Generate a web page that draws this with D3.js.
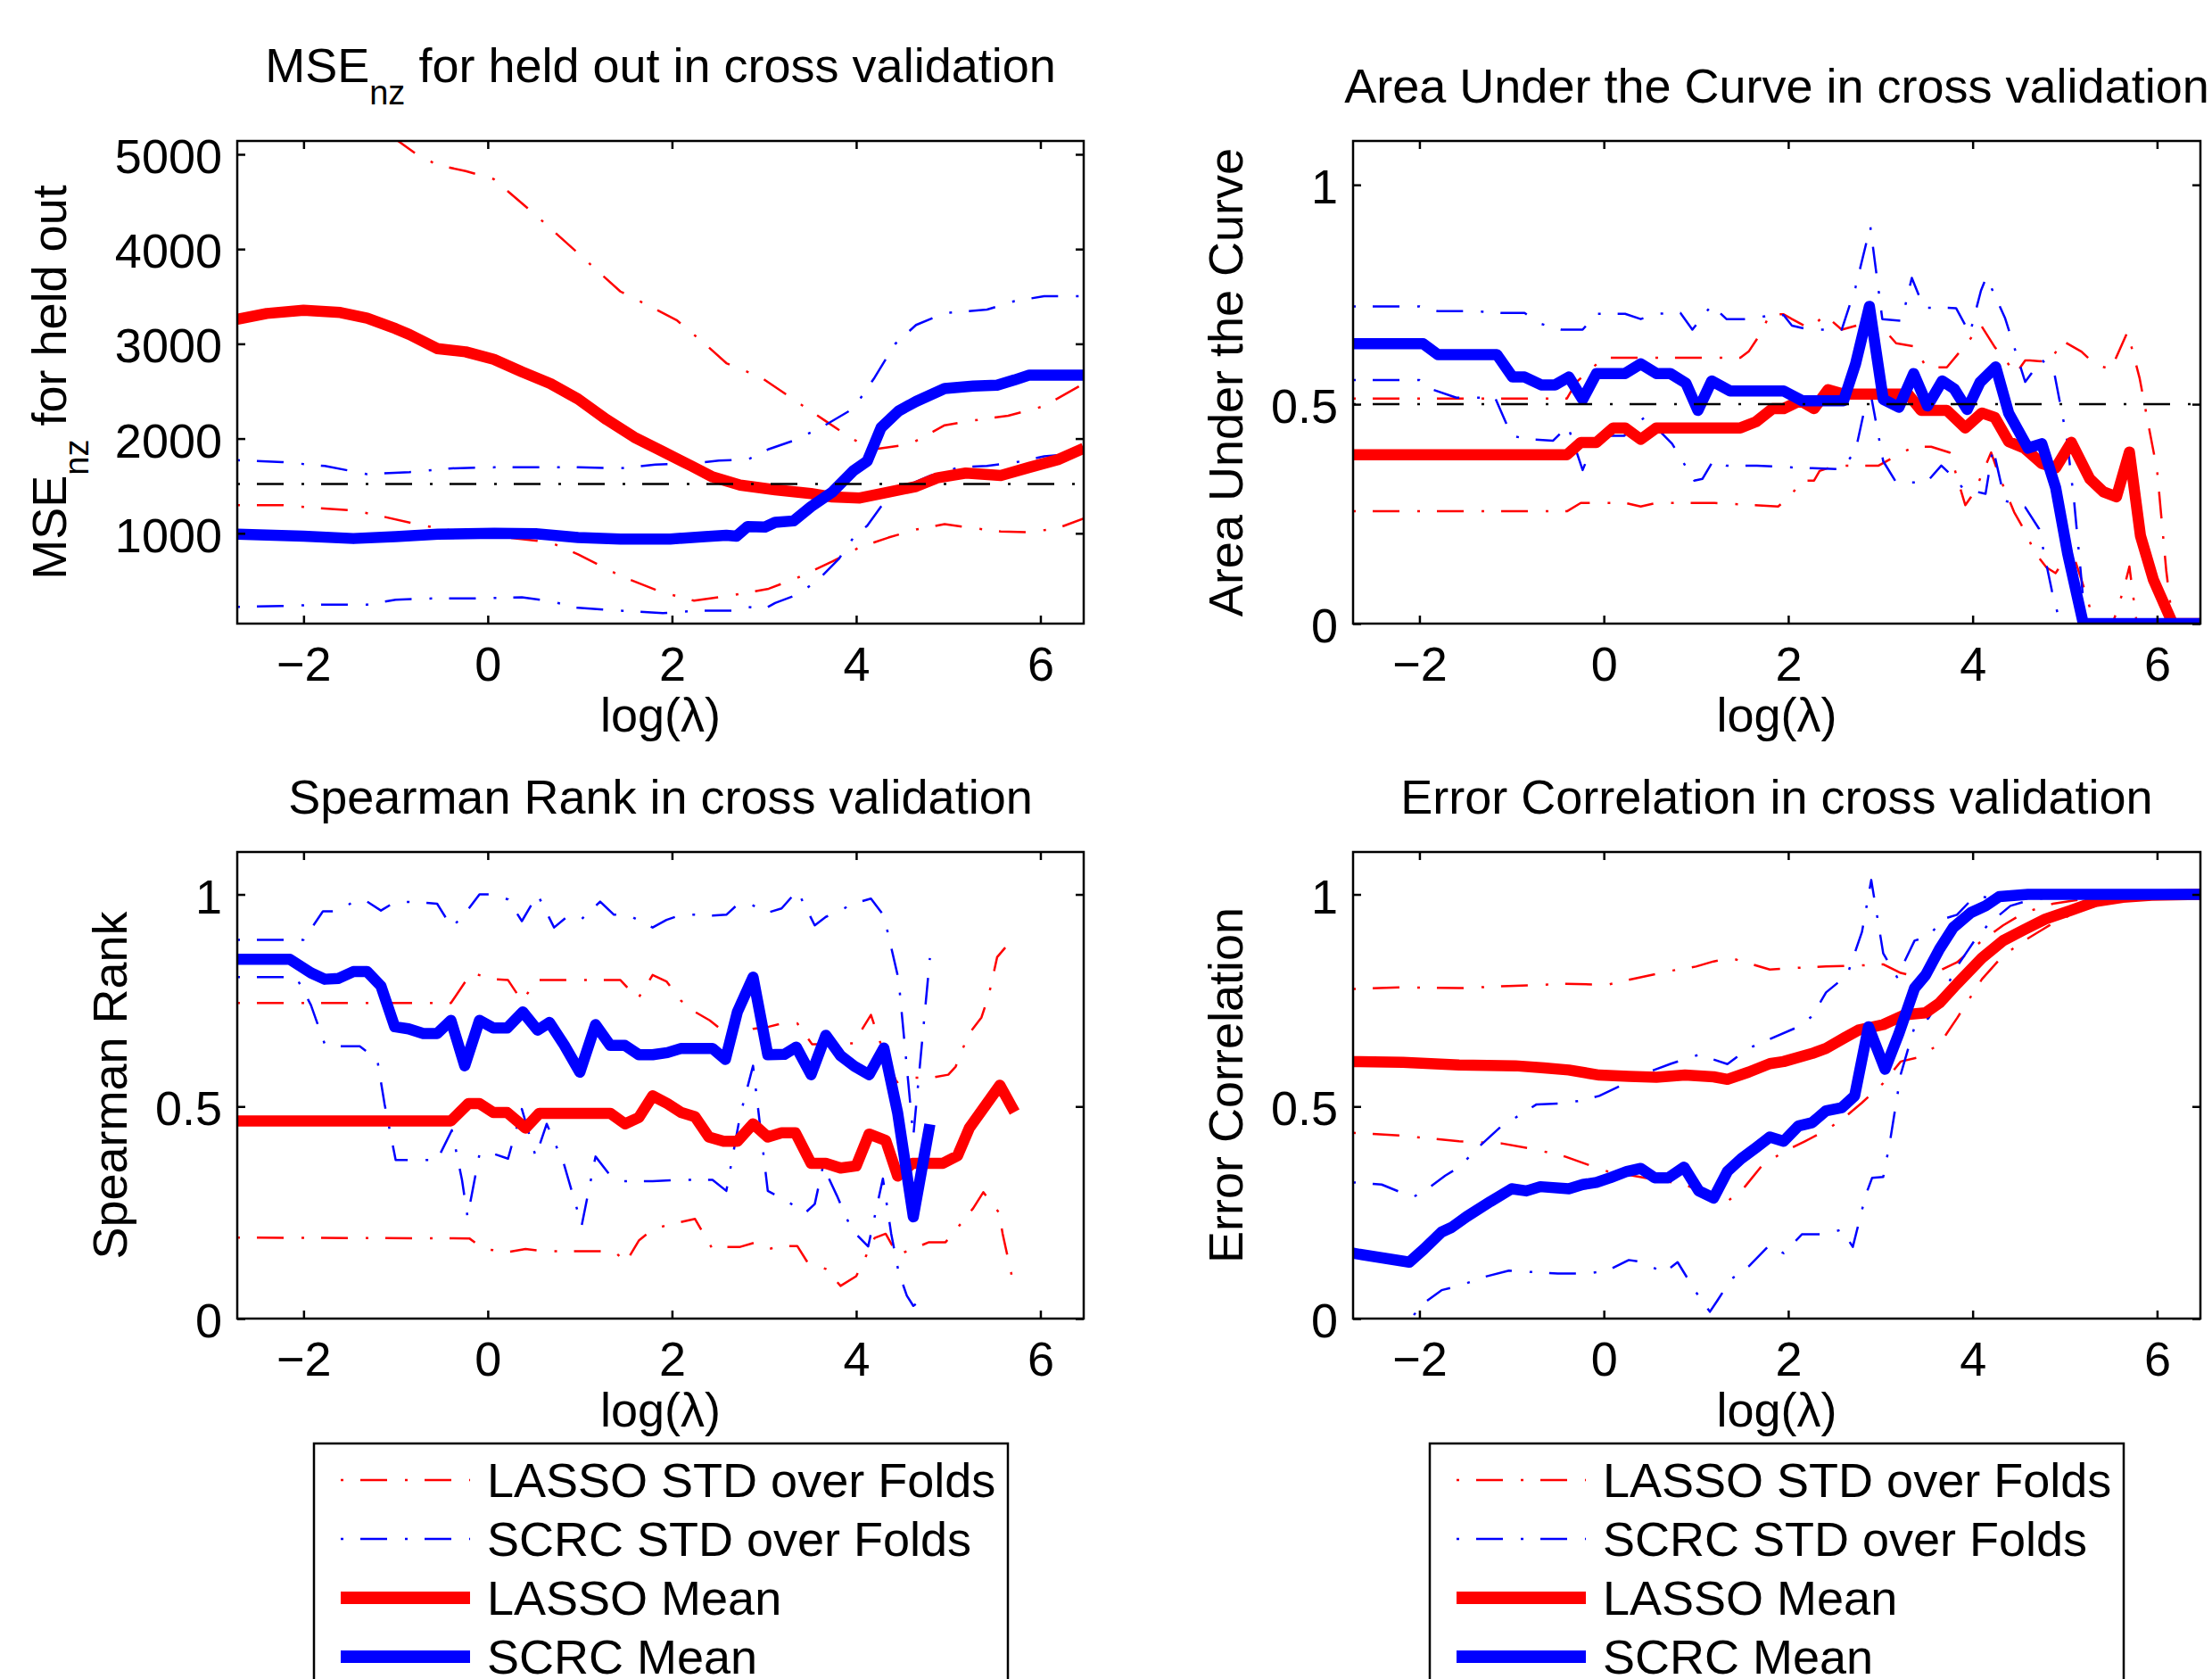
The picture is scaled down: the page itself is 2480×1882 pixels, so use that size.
<!DOCTYPE html>
<html>
<head>
<meta charset="utf-8">
<script src="https://cdn.jsdelivr.net/npm/d3@7"></script>
<style>
  body { margin: 0; background: #fff; }
  svg text { font-family: 'Liberation Sans', Arial, Helvetica, sans-serif; white-space: pre; }
</style>
</head>
<body>
<svg id="chart" width="2480" height="1882"></svg>
<script>
const xDomain = [-2.72, 6.47]
const xTicks = [-2, 0, 2, 4, 6]
const mseTicks = [1000, 2000, 3000, 4000, 5000]
const unitTicks = [0, 0.5, 1]
const legendLabels = ['LASSO STD over Folds', 'SCRC STD over Folds', 'LASSO Mean', 'SCRC Mean']

// MSE_nz panel
const mseRef = 1520
const mseLassoMean = [[-2.72,3260],[-2.4,3320],[-2.0,3355],[-1.6,3330],[-1.31,3270],[-1.0,3160],[-0.85,3098],[-0.55,2950],[-0.24,2915],[0.065,2836],[0.37,2705],[0.68,2580],[0.98,2417],[1.29,2200],[1.59,2014],[1.9,1863],[2.21,1711],[2.44,1595],[2.74,1509],[3.12,1459],[3.51,1419],[3.74,1383],[4.04,1373],[4.35,1434],[4.65,1494],[4.88,1585],[5.19,1636],[5.57,1610],[5.88,1696],[6.19,1777],[6.47,1898]]
const mseScrcMean = [[-2.72,990],[-2.0,970],[-1.46,945],[-1.0,965],[-0.54,990],[0.07,1000],[0.52,995],[0.98,955],[1.44,940],[1.98,940],[2.36,965],[2.59,980],[2.7,970],[2.82,1071],[3.01,1066],[3.12,1116],[3.32,1131],[3.51,1282],[3.74,1434],[3.97,1661],[4.12,1762],[4.27,2115],[4.46,2291],[4.65,2392],[4.96,2528],[5.27,2554],[5.53,2564],[5.72,2619],[5.88,2670],[6.47,2670]]
const mseLassoUp = [[-1.2,5300],[-0.78,5005],[-0.55,4889],[-0.24,4823],[0.065,4738],[0.52,4359],[0.98,3956],[1.44,3552],[1.75,3401],[2.05,3250],[2.36,2997],[2.59,2796],[2.97,2644],[3.35,2392],[3.66,2190],[3.97,1989],[4.2,1888],[4.58,1938],[4.96,2140],[5.27,2190],[5.65,2241],[6.04,2342],[6.47,2580]]
const mseLassoLo = [[-2.72,1298],[-2.23,1298],[-1.92,1272],[-1.46,1242],[-1.16,1182],[-0.7,1081],[-0.24,1005],[0.22,955],[0.68,904],[0.98,778],[1.44,551],[1.9,375],[2.24,289],[2.67,349],[3.05,415],[3.35,526],[3.74,702],[4.04,854],[4.35,955],[4.65,1040],[4.96,1096],[5.27,1055],[5.57,1020],[5.88,1010],[6.19,1055],[6.47,1156]]
const mseScrcUp = [[-2.72,1772],[-2.23,1752],[-1.77,1711],[-1.31,1625],[-0.85,1646],[-0.39,1686],[0.07,1696],[0.52,1696],[0.98,1696],[1.44,1686],[1.82,1726],[2.21,1736],[2.51,1767],[2.82,1777],[3.05,1888],[3.35,1989],[3.66,2140],[3.97,2317],[4.2,2644],[4.42,2997],[4.65,3199],[4.96,3325],[5.42,3361],[5.72,3451],[6.04,3502],[6.47,3502]]
const mseScrcLo = [[-2.72,223],[-2.23,233],[-1.77,248],[-1.31,248],[-1.0,299],[-0.55,314],[-0.09,314],[0.37,324],[0.68,284],[0.98,213],[1.44,183],[1.9,158],[2.29,183],[2.67,183],[2.82,223],[3.01,205],[3.12,264],[3.35,349],[3.58,500],[3.81,728],[3.97,955],[4.12,1081],[4.27,1282],[4.5,1484],[4.81,1610],[5.12,1696],[5.42,1711],[5.72,1747],[6.04,1812],[6.47,1847]]

// AUC panel
const aucRef = 0.5
const aucLassoMean = [[-2.72,0.385],[-0.4,0.385],[-0.25,0.413],[-0.08,0.413],[0.1,0.446],[0.23,0.446],[0.4,0.42],[0.57,0.446],[1.48,0.446],[1.65,0.46],[1.83,0.49],[1.95,0.49],[2.13,0.508],[2.28,0.49],[2.43,0.533],[2.6,0.523],[3.3,0.523],[3.44,0.486],[3.72,0.486],[3.92,0.446],[4.1,0.48],[4.24,0.47],[4.39,0.415],[4.56,0.4],[4.75,0.365],[4.9,0.355],[5.07,0.413],[5.27,0.33],[5.42,0.3],[5.56,0.289],[5.7,0.391],[5.82,0.2],[5.96,0.1],[6.17,0],[6.47,0]]
const aucScrcMean = [[-2.72,0.638],[-1.96,0.638],[-1.8,0.613],[-1.16,0.613],[-0.99,0.562],[-0.86,0.562],[-0.68,0.544],[-0.53,0.544],[-0.38,0.562],[-0.23,0.511],[-0.08,0.57],[0.23,0.57],[0.4,0.592],[0.57,0.57],[0.72,0.57],[0.89,0.548],[1.02,0.486],[1.17,0.553],[1.37,0.53],[1.95,0.53],[2.15,0.508],[2.6,0.508],[2.73,0.592],[2.88,0.723],[3.03,0.511],[3.2,0.493],[3.36,0.57],[3.51,0.496],[3.67,0.553],[3.8,0.535],[3.94,0.488],[4.08,0.55],[4.25,0.585],[4.39,0.48],[4.6,0.4],[4.75,0.41],[4.9,0.31],[5.03,0.16],[5.2,0],[6.47,0]]
const aucLassoUp = [[-2.72,0.513],[-0.4,0.513],[-0.3,0.55],[0.0,0.606],[1.48,0.606],[1.57,0.62],[1.7,0.661],[1.8,0.705],[1.95,0.705],[2.04,0.694],[2.23,0.673],[2.4,0.703],[2.58,0.67],[2.75,0.68],[2.9,0.675],[3.02,0.675],[3.17,0.639],[3.36,0.632],[3.5,0.584],[3.72,0.584],[3.93,0.637],[4.09,0.68],[4.24,0.63],[4.47,0.57],[4.57,0.6],[4.62,0.6],[4.84,0.596],[4.97,0.645],[5.18,0.62],[5.33,0.59],[5.5,0.58],[5.68,0.665],[5.81,0.56],[5.9,0.46],[6.0,0.35],[6.1,0.12],[6.17,0],[6.47,0]]
const aucLassoLo = [[-2.72,0.256],[-0.4,0.256],[-0.25,0.275],[0.23,0.275],[0.4,0.267],[0.57,0.275],[1.2,0.275],[1.61,0.27],[1.89,0.267],[2.02,0.29],[2.15,0.326],[2.28,0.326],[2.34,0.348],[2.51,0.36],[2.98,0.36],[3.15,0.38],[3.36,0.403],[3.55,0.403],[3.75,0.39],[3.92,0.27],[4.02,0.3],[4.2,0.39],[4.3,0.33],[4.45,0.254],[4.58,0.206],[4.67,0.163],[4.8,0.128],[4.9,0.115],[5.07,0.17],[5.18,0.1],[5.28,0.03],[5.44,0.0],[5.5,-0.01],[5.55,0.02],[5.64,0.08],[5.7,0.13],[5.78,0.0],[5.85,-0.05],[6.17,0],[6.47,0]]
const aucScrcUp = [[-2.72,0.723],[-2.0,0.723],[-1.8,0.712],[-1.4,0.712],[-1.11,0.708],[-0.86,0.708],[-0.68,0.683],[-0.46,0.67],[-0.23,0.67],[-0.08,0.706],[0.23,0.706],[0.4,0.694],[0.57,0.706],[0.83,0.708],[0.96,0.67],[1.17,0.726],[1.33,0.694],[1.61,0.694],[1.8,0.703],[1.95,0.703],[2.04,0.679],[2.23,0.67],[2.58,0.67],[2.73,0.767],[2.89,0.905],[3.02,0.694],[3.23,0.69],[3.34,0.788],[3.47,0.72],[3.66,0.72],[3.82,0.719],[3.97,0.661],[4.09,0.759],[4.15,0.79],[4.35,0.697],[4.57,0.551],[4.75,0.602],[4.89,0.566],[5.02,0.424],[5.1,0.279],[5.18,0.1],[5.22,0],[6.47,0]]
const aucScrcLo = [[-2.72,0.555],[-2.0,0.555],[-1.85,0.533],[-1.6,0.515],[-1.18,0.515],[-1.0,0.428],[-0.81,0.42],[-0.55,0.417],[-0.39,0.45],[-0.23,0.35],[-0.08,0.428],[0.22,0.428],[0.44,0.47],[0.6,0.44],[0.74,0.41],[0.98,0.326],[1.07,0.33],[1.19,0.373],[1.33,0.36],[1.66,0.36],[2.15,0.355],[2.58,0.352],[2.73,0.394],[2.88,0.54],[3.03,0.37],[3.17,0.322],[3.5,0.322],[3.66,0.36],[3.81,0.33],[3.9,0.307],[4.14,0.296],[4.22,0.4],[4.35,0.28],[4.57,0.265],[4.72,0.216],[4.86,0.074],[4.95,0],[5.03,-0.1],[5.2,0],[6.47,0]]

// Spearman panel
const spLassoMean = [[-2.72,0.466],[-0.4,0.466],[-0.21,0.507],[-0.09,0.507],[0.06,0.486],[0.21,0.486],[0.41,0.449],[0.56,0.484],[1.33,0.484],[1.49,0.459],[1.64,0.474],[1.79,0.525],[1.95,0.507],[2.1,0.486],[2.25,0.476],[2.4,0.428],[2.56,0.418],[2.71,0.418],[2.88,0.459],[3.04,0.428],[3.19,0.438],[3.34,0.438],[3.51,0.366],[3.67,0.366],[3.83,0.355],[4.0,0.36],[4.14,0.435],[4.32,0.42],[4.45,0.336],[4.61,0.366],[4.94,0.366],[5.1,0.384],[5.23,0.45],[5.56,0.55],[5.72,0.487]]
const spScrcMean = [[-2.72,0.847],[-2.15,0.847],[-1.92,0.815],[-1.77,0.8],[-1.62,0.802],[-1.46,0.818],[-1.31,0.818],[-1.16,0.784],[-1.01,0.688],[-0.86,0.683],[-0.7,0.672],[-0.55,0.672],[-0.4,0.703],[-0.25,0.596],[-0.09,0.703],[0.06,0.685],[0.21,0.685],[0.38,0.723],[0.54,0.68],[0.67,0.698],[0.83,0.645],[1.0,0.581],[1.17,0.693],[1.33,0.644],[1.49,0.644],[1.64,0.622],[1.79,0.622],[1.95,0.627],[2.1,0.637],[2.44,0.637],[2.58,0.611],[2.71,0.723],[2.88,0.805],[3.04,0.622],[3.22,0.623],[3.35,0.64],[3.51,0.575],[3.67,0.668],[3.83,0.62],[3.98,0.595],[4.14,0.575],[4.3,0.638],[4.45,0.485],[4.62,0.24],[4.8,0.458]]
const spLassoUp = [[-2.72,0.744],[-0.4,0.744],[-0.18,0.815],[0.07,0.8],[0.22,0.798],[0.37,0.749],[0.54,0.798],[1.44,0.798],[1.63,0.754],[1.79,0.81],[1.94,0.795],[2.1,0.749],[2.25,0.723],[2.41,0.703],[2.59,0.672],[2.71,0.672],[2.88,0.683],[3.05,0.688],[3.2,0.696],[3.36,0.696],[3.52,0.647],[3.67,0.647],[3.82,0.649],[3.97,0.649],[4.16,0.716],[4.25,0.657],[4.44,0.557],[4.61,0.568],[4.82,0.568],[5.0,0.575],[5.08,0.594],[5.14,0.627],[5.22,0.67],[5.36,0.71],[5.44,0.763],[5.53,0.852],[5.69,0.893]]
const spLassoLo = [[-2.72,0.191],[-0.2,0.189],[-0.04,0.164],[0.22,0.157],[0.41,0.164],[0.6,0.159],[1.37,0.159],[1.5,0.133],[1.64,0.184],[1.79,0.21],[1.94,0.22],[2.25,0.235],[2.44,0.164],[2.59,0.169],[2.74,0.169],[2.9,0.179],[3.05,0.164],[3.2,0.171],[3.36,0.171],[3.47,0.133],[3.67,0.117],[3.83,0.077],[4.0,0.1],[4.09,0.14],[4.2,0.19],[4.32,0.2],[4.45,0.15],[4.62,0.165],[4.79,0.18],[4.97,0.18],[5.16,0.23],[5.27,0.26],[5.38,0.298],[5.55,0.25],[5.59,0.2],[5.69,0.1]]
const spScrcUp = [[-2.72,0.893],[-2.0,0.893],[-1.79,0.96],[-1.62,0.96],[-1.46,0.983],[-1.31,0.983],[-1.16,0.962],[-1.0,0.983],[-0.7,0.981],[-0.55,0.978],[-0.39,0.922],[-0.24,0.957],[-0.09,1.0],[0.07,1.0],[0.22,0.988],[0.37,0.937],[0.54,1.0],[0.72,0.922],[0.87,0.949],[1.02,0.942],[1.22,0.983],[1.37,0.952],[1.52,0.952],[1.79,0.922],[1.94,0.94],[2.1,0.952],[2.25,0.952],[2.44,0.95],[2.59,0.952],[2.71,0.976],[2.86,0.976],[3.04,0.957],[3.19,0.967],[3.36,1.009],[3.55,0.927],[3.67,0.947],[3.82,0.962],[3.97,0.978],[4.16,0.99],[4.3,0.95],[4.46,0.8],[4.62,0.43],[4.8,0.85]]
const spScrcLo = [[-2.72,0.805],[-2.08,0.805],[-1.92,0.739],[-1.77,0.647],[-1.62,0.642],[-1.39,0.642],[-1.2,0.611],[-1.12,0.505],[-1.0,0.374],[-0.55,0.374],[-0.39,0.444],[-0.28,0.327],[-0.22,0.24],[-0.09,0.388],[0.07,0.388],[0.22,0.377],[0.37,0.494],[0.52,0.382],[0.64,0.459],[0.83,0.362],[1.02,0.22],[1.17,0.382],[1.33,0.337],[1.48,0.324],[1.79,0.324],[2.1,0.327],[2.44,0.327],[2.59,0.301],[2.74,0.479],[2.88,0.596],[3.04,0.301],[3.22,0.28],[3.45,0.25],[3.55,0.27],[3.64,0.36],[3.79,0.29],[3.95,0.21],[4.13,0.17],[4.2,0.24],[4.29,0.33],[4.38,0.2],[4.46,0.11],[4.55,0.054],[4.62,0.03],[4.8,0.06]]

// Error correlation panel
const ecLassoMean = [[-2.72,0.606],[-2.18,0.604],[-1.57,0.598],[-0.96,0.596],[-0.65,0.591],[-0.38,0.586],[-0.05,0.574],[0.27,0.571],[0.57,0.569],[0.88,0.574],[1.19,0.57],[1.34,0.564],[1.57,0.581],[1.8,0.601],[1.95,0.606],[2.26,0.625],[2.41,0.637],[2.61,0.662],[2.76,0.68],[3.03,0.693],[3.26,0.716],[3.49,0.721],[3.64,0.744],[3.83,0.789],[4.1,0.85],[4.33,0.891],[4.56,0.917],[4.79,0.942],[5.06,0.962],[5.33,0.983],[5.63,0.993],[5.94,0.998],[6.47,1.0]]
const ecScrcMean = [[-2.72,0.154],[-2.11,0.133],[-1.95,0.164],[-1.76,0.204],[-1.65,0.215],[-1.49,0.24],[-1.23,0.276],[-1.0,0.306],[-0.84,0.301],[-0.69,0.311],[-0.38,0.306],[-0.23,0.316],[-0.08,0.321],[0.07,0.332],[0.25,0.347],[0.4,0.354],[0.55,0.332],[0.7,0.332],[0.87,0.357],[1.03,0.301],[1.19,0.284],[1.34,0.347],[1.49,0.377],[1.65,0.403],[1.8,0.428],[1.95,0.418],[2.11,0.454],[2.26,0.462],[2.41,0.49],[2.58,0.497],[2.72,0.525],[2.87,0.688],[3.05,0.588],[3.2,0.672],[3.37,0.779],[3.49,0.81],[3.64,0.871],[3.79,0.922],[3.98,0.957],[4.14,0.973],[4.29,0.995],[4.6,1.0],[6.47,1.0]]
const ecLassoUp = [[-2.72,0.777],[-2.18,0.781],[-1.57,0.779],[-1.03,0.784],[-0.42,0.789],[0.04,0.787],[0.34,0.802],[0.73,0.82],[1.0,0.83],[1.19,0.842],[1.38,0.85],[1.61,0.835],[1.8,0.823],[2.11,0.827],[2.41,0.83],[2.72,0.832],[3.03,0.835],[3.22,0.815],[3.41,0.805],[3.64,0.82],[3.83,0.84],[4.1,0.891],[4.33,0.927],[4.56,0.957],[4.87,0.978],[5.17,0.988],[5.48,0.993],[6.47,1.0]]
const ecLassoLo = [[-2.72,0.438],[-2.18,0.431],[-1.57,0.418],[-1.11,0.413],[-0.73,0.398],[-0.42,0.382],[-0.19,0.364],[0.04,0.347],[0.31,0.337],[0.57,0.327],[0.88,0.316],[1.15,0.291],[1.34,0.276],[1.53,0.311],[1.72,0.362],[1.95,0.393],[2.18,0.418],[2.41,0.444],[2.61,0.474],[2.8,0.509],[3.03,0.555],[3.22,0.606],[3.41,0.616],[3.64,0.647],[3.83,0.708],[4.1,0.8],[4.33,0.856],[4.56,0.891],[4.87,0.932],[5.17,0.962],[5.48,0.983],[5.86,0.993],[6.47,0.998]]
const ecScrcUp = [[-2.72,0.321],[-2.41,0.316],[-2.07,0.286],[-1.88,0.311],[-1.72,0.337],[-1.57,0.357],[-1.34,0.408],[-1.11,0.454],[-0.88,0.484],[-0.73,0.505],[-0.5,0.507],[-0.27,0.513],[-0.05,0.525],[0.19,0.55],[0.42,0.576],[0.73,0.601],[1.03,0.622],[1.34,0.6],[1.57,0.637],[1.8,0.659],[2.11,0.688],[2.26,0.713],[2.41,0.769],[2.64,0.81],[2.8,0.912],[2.9,1.034],[3.03,0.861],[3.18,0.805],[3.37,0.891],[3.52,0.901],[3.68,0.942],[3.83,0.952],[4.02,0.995],[4.18,0.993],[4.33,1.0],[6.47,1.0]]
const ecScrcLo = [[-2.72,-0.03],[-2.11,-0.004],[-1.95,0.037],[-1.76,0.067],[-1.57,0.077],[-1.3,0.098],[-1.03,0.113],[-0.8,0.11],[-0.5,0.106],[-0.19,0.106],[0.04,0.113],[0.27,0.138],[0.42,0.133],[0.65,0.108],[0.8,0.133],[1.0,0.062],[1.15,0.016],[1.23,0.042],[1.38,0.093],[1.57,0.123],[1.8,0.174],[1.95,0.154],[2.15,0.199],[2.41,0.199],[2.58,0.21],[2.7,0.169],[2.84,0.291],[2.91,0.332],[3.03,0.334],[3.1,0.413],[3.22,0.576],[3.37,0.688],[3.52,0.708],[3.64,0.749],[3.83,0.83],[4.02,0.891],[4.18,0.932],[4.41,0.973],[4.64,0.988],[4.87,0.993],[6.47,0.998]]

const RED = '#ff0000'
const BLUE = '#0000ff'
const dashDot = '3,19,30,20'
const fontSize = 54
const subSize = 38
const tickLen = 9

let svg = d3.select('#chart')
svg.append('rect').attr('width', 2480).attr('height', 1882).attr('fill', '#fff')

let fmt = d3.format('~g')

// text with optional subscript pieces
let addRich = function (sel, pieces) {
  pieces.forEach((p, i) => {
    let t = sel.append('tspan').text(p.t)
    if (p.sub) t.attr('dy', 25).style('font-size', subSize + 'px')
    else if (i > 0 && pieces[i - 1].sub) t.attr('dy', -25)
  })
}

let drawPanel = function (p) {
  let x = d3.scaleLinear().domain(xDomain).range([p.left, p.right])
  let y = d3.scaleLinear().domain(p.yDomain).range([p.bottom, p.top])
  let g = svg.append('g')

  svg.append('clipPath').attr('id', 'clip' + p.id)
    .append('rect')
    .attr('x', p.left).attr('y', p.top)
    .attr('width', p.right - p.left).attr('height', p.bottom - p.top)

  let line = d3.line().x(d => x(d[0])).y(d => y(d[1]))
  let plot = g.append('g').attr('clip-path', `url(#clip${p.id})`)

  p.series.forEach(s => {
    plot.append('path')
      .datum(s.data)
      .attr('d', line)
      .style('fill', 'none')
      .style('stroke', s.color)
      .style('stroke-width', s.mean ? 12.5 : 2.5)
      .style('stroke-dasharray', s.mean ? null : dashDot)
      .style('stroke-linejoin', 'round')
  })
  // chance / reference level
  if (p.ref != null) {
    plot.append('path')
      .datum([[xDomain[0], p.ref], [xDomain[1], p.ref]])
      .attr('d', line)
      .style('fill', 'none')
      .style('stroke', '#000')
      .style('stroke-width', 2.5)
      .style('stroke-dasharray', dashDot)
  }

  let styleAxis = function (a) {
    a.attr('font-size', fontSize)
      .attr('font-family', "'Liberation Sans', Arial, Helvetica, sans-serif")
    a.select('.domain').remove()
    a.selectAll('line').style('stroke', '#000').style('stroke-width', 2.5)
    a.selectAll('text').attr('fill', '#000')
  }
  g.append('g')
    .attr('transform', `translate(0,${p.bottom})`)
    .call(d3.axisBottom(x).tickValues(xTicks).tickSizeInner(-tickLen).tickSizeOuter(0).tickPadding(26).tickFormat(fmt))
    .call(styleAxis)
  g.append('g')
    .attr('transform', `translate(0,${p.top})`)
    .call(d3.axisTop(x).tickValues(xTicks).tickSizeInner(-tickLen).tickSizeOuter(0).tickFormat(() => ''))
    .call(styleAxis)
  let left = g.append('g')
    .attr('transform', `translate(${p.left},0)`)
    .call(d3.axisLeft(y).tickValues(p.yTicks).tickSizeInner(-tickLen).tickSizeOuter(0).tickPadding(17).tickFormat(fmt))
    .call(styleAxis)
  left.selectAll('text').attr('dy', '0.38em')
  g.append('g')
    .attr('transform', `translate(${p.right},0)`)
    .call(d3.axisRight(y).tickValues(p.yTicks).tickSizeInner(-tickLen).tickSizeOuter(0).tickFormat(() => ''))
    .call(styleAxis)

  g.append('rect')
    .attr('x', p.left).attr('y', p.top)
    .attr('width', p.right - p.left).attr('height', p.bottom - p.top)
    .style('fill', 'none').style('stroke', '#000').style('stroke-width', 2.5)

  let cx = (p.left + p.right) / 2
  let title = g.append('text')
    .attr('x', cx).attr('y', p.titleY)
    .attr('text-anchor', 'middle')
    .style('font-size', fontSize + 'px')
  addRich(title, p.title)

  g.append('text')
    .attr('x', cx).attr('y', p.bottom + 121)
    .attr('text-anchor', 'middle')
    .style('font-size', fontSize + 'px')
    .text('log(λ)')

  let yl = g.append('text')
    .attr('transform', `translate(${p.left - p.ylabelOff},${(p.top + p.bottom) / 2}) rotate(-90)`)
    .attr('text-anchor', 'middle')
    .style('font-size', fontSize + 'px')
  addRich(yl, p.ylabel)
}

let drawLegend = function (left, top) {
  let width = 778
  let g = svg.append('g')
  g.append('rect')
    .attr('x', left).attr('y', top)
    .attr('width', width).attr('height', 400)
    .style('fill', '#fff').style('stroke', '#000').style('stroke-width', 2.5)
  let styles = [
    {color: RED, mean: false},
    {color: BLUE, mean: false},
    {color: RED, mean: true},
    {color: BLUE, mean: true}
  ]
  legendLabels.forEach((label, i) => {
    let ly = top + 41 + i * 66
    g.append('line')
      .attr('x1', left + 30).attr('x2', left + 175)
      .attr('y1', ly).attr('y2', ly)
      .style('stroke', styles[i].color)
      .style('stroke-width', styles[i].mean ? 14 : 2.5)
      .style('stroke-dasharray', styles[i].mean ? null : dashDot)
    g.append('text')
      .attr('x', left + 194).attr('y', ly + 19)
      .style('font-size', fontSize + 'px')
      .text(label)
  })
}

let stdSeries = function (lassoUp, lassoLo, scrcUp, scrcLo, lassoMean, scrcMean) {
  return [
    {data: lassoUp, color: RED, mean: false},
    {data: lassoLo, color: RED, mean: false},
    {data: scrcUp, color: BLUE, mean: false},
    {data: scrcLo, color: BLUE, mean: false},
    {data: lassoMean, color: RED, mean: true},
    {data: scrcMean, color: BLUE, mean: true}
  ]
}

drawPanel({
  id: 1, left: 266, right: 1215, top: 158, bottom: 699,
  yDomain: [47, 5141], yTicks: mseTicks, ref: mseRef, titleY: 92, ylabelOff: 192,
  title: [{t: 'MSE'}, {t: 'nz', sub: true}, {t: ' for held out in cross validation'}],
  ylabel: [{t: 'MSE'}, {t: 'nz', sub: true}, {t: ' for held out'}],
  series: stdSeries(mseLassoUp, mseLassoLo, mseScrcUp, mseScrcLo, mseLassoMean, mseScrcMean)
})
drawPanel({
  id: 2, left: 1517, right: 2467, top: 158, bottom: 699,
  yDomain: [0, 1.1], yTicks: unitTicks, ref: aucRef, titleY: 115, ylabelOff: 124,
  title: [{t: 'Area Under the Curve in cross validation'}],
  ylabel: [{t: 'Area Under the Curve'}],
  series: stdSeries(aucLassoUp, aucLassoLo, aucScrcUp, aucScrcLo, aucLassoMean, aucScrcMean)
})
drawPanel({
  id: 3, left: 266, right: 1215, top: 955, bottom: 1478,
  yDomain: [0, 1.1], yTicks: unitTicks, ref: null, titleY: 912, ylabelOff: 124,
  title: [{t: 'Spearman Rank in cross validation'}],
  ylabel: [{t: 'Spearman Rank'}],
  series: stdSeries(spLassoUp, spLassoLo, spScrcUp, spScrcLo, spLassoMean, spScrcMean)
})
drawPanel({
  id: 4, left: 1517, right: 2467, top: 955, bottom: 1478,
  yDomain: [0, 1.1], yTicks: unitTicks, ref: null, titleY: 912, ylabelOff: 124,
  title: [{t: 'Error Correlation in cross validation'}],
  ylabel: [{t: 'Error Correlation'}],
  series: stdSeries(ecLassoUp, ecLassoLo, ecScrcUp, ecScrcLo, ecLassoMean, ecScrcMean)
})

drawLegend(352, 1618)
drawLegend(1603, 1618)
</script>
</body>
</html>
